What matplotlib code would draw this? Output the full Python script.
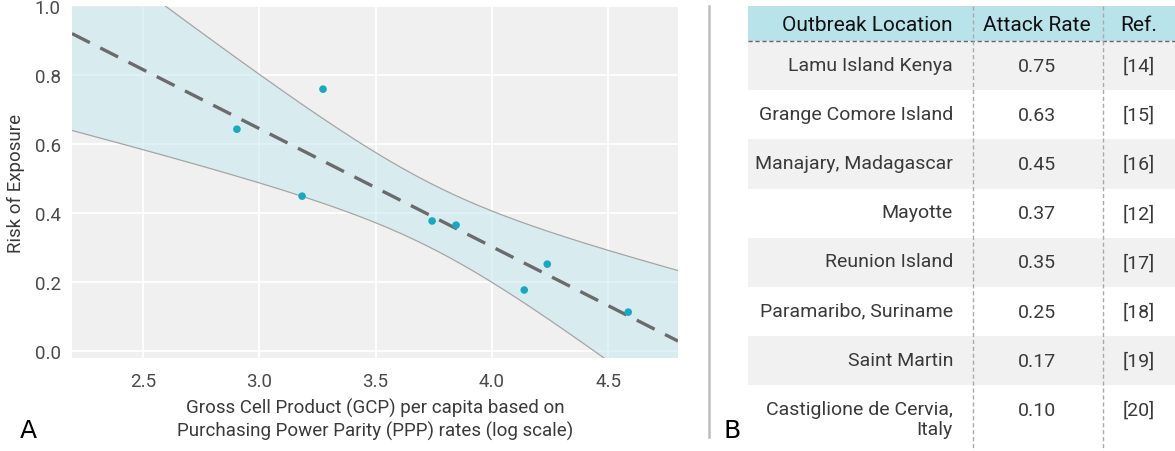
import numpy as np
import matplotlib
matplotlib.use('Agg')
import matplotlib.pyplot as plt
from matplotlib.lines import Line2D
from matplotlib.patches import Rectangle

# Panel A data: GCP per capita (log scale) vs risk of exposure
gcp_log = [2.904, 3.274, 3.184, 3.743, 3.846, 4.139, 4.238, 4.586]
risk = [0.643, 0.759, 0.449, 0.377, 0.365, 0.177, 0.252, 0.113]

x_ticks = [2.5, 3.0, 3.5, 4.0, 4.5]
y_ticks = [0.0, 0.2, 0.4, 0.6, 0.8, 1.0]

# Panel B table
col_headers = ['Outbreak Location', 'Attack Rate', 'Ref.']
locations = ['Lamu Island Kenya', 'Grange Comore Island', 'Manajary, Madagascar',
             'Mayotte', 'Reunion Island', 'Paramaribo, Suriname', 'Saint Martin',
             'Castiglione de Cervia,\nItaly']
attack_rates = ['0.75', '0.63', '0.45', '0.37', '0.35', '0.25', '0.17', '0.10']
refs = ['[14]', '[15]', '[16]', '[12]', '[17]', '[18]', '[19]', '[20]']

# style
FONT = 'Roboto'
TEXT_COLOR = '#3a3a3a'
TICK_COLOR = '#4a4a4a'
POINT_COLOR = '#15a9c3'
LINE_COLOR = '#6b6b6b'
BAND_COLOR = '#c6e9f0'
HEADER_COLOR = '#b9e3ea'
STRIPE_COLOR = '#f1f1f1'
T_CRIT = 2.447  # t(0.975, df=6)

plt.rcParams['font.family'] = [FONT, 'DejaVu Sans']

W, H = 1175, 452
fig = plt.figure(figsize=(W / 100, H / 100), dpi=100)


def px_box(left, top, right, bottom):
    return [left / W, 1 - bottom / H, (right - left) / W, (bottom - top) / H]


# ---- Panel A ----
ax = fig.add_axes(px_box(72, 7, 678, 359))
ax.set_facecolor('#f0f0f0')
for sp in ax.spines.values():
    sp.set_visible(False)
ax.grid(True, color='white', linewidth=1.3)
ax.set_axisbelow(True)
ax.tick_params(axis='both', length=0, labelsize=13.5, labelcolor=TICK_COLOR)
ax.tick_params(axis='x', pad=10)
ax.tick_params(axis='y', pad=8)
ax.set_xticks(x_ticks)
ax.set_yticks(y_ticks)
ax.set_xlim(2.195, 4.80)
ax.set_ylim(-0.02, 1.0)

x = np.array(gcp_log)
y = np.array(risk)
slope, intercept = np.polyfit(x, y, 1)
xs = np.linspace(2.195, 4.80, 300)
fit = intercept + slope * xs
resid = y - (intercept + slope * x)
s = np.sqrt(np.sum(resid ** 2) / (len(x) - 2))
sxx = np.sum((x - x.mean()) ** 2)
hw = T_CRIT * s * np.sqrt(1 / len(x) + (xs - x.mean()) ** 2 / sxx)

ax.fill_between(xs, fit - hw, fit + hw, color=BAND_COLOR, alpha=0.55, linewidth=0, zorder=2)
ax.plot(xs, fit + hw, color='#a5a5a5', linewidth=0.9, zorder=3)
ax.plot(xs, fit - hw, color='#a5a5a5', linewidth=0.9, zorder=3)
ax.plot(xs, fit, color=LINE_COLOR, linewidth=2.4, dashes=(6, 3.5), zorder=4)
ax.scatter(x, y, s=30, color=POINT_COLOR, edgecolor='none', zorder=5)

ax.set_ylabel('Risk of Exposure', fontsize=13.5, color=TEXT_COLOR, labelpad=7)
ax.set_xlabel('Gross Cell Product (GCP) per capita based on\nPurchasing Power Parity (PPP) rates (log scale)',
              fontsize=13.5, color=TEXT_COLOR, labelpad=6, linespacing=1.2)

panel_font = ['Liberation Sans Narrow', 'DejaVu Sans']
fig.text(28 / W, 1 - 431 / H, 'A', fontsize=18, color='black', ha='center', va='center',
         family=panel_font)
fig.text(732 / W, 1 - 431 / H, 'B', fontsize=18, color='black', ha='center', va='center',
         family=panel_font)

# divider between panels
fig.add_artist(Line2D([709 / W, 709 / W], [1 - 7 / H, 1 - 438 / H], color='#bdbdbd', linewidth=1.8))

# ---- Panel B: table ----
tab = fig.add_axes(px_box(748, 7, 1175, 452))
tab.set_xlim(0, 427)
tab.set_ylim(445, 0)
tab.axis('off')

header_h = 35
row_h = 49.2
col_edges = [0, 225, 355, 440]

tab.add_patch(Rectangle((0, 0), 440, header_h, facecolor=HEADER_COLOR, edgecolor='none'))
for i in range(len(locations)):
    top = header_h + i * row_h
    h = row_h if i < len(locations) - 1 else 445 - top
    if i % 2 == 0:
        tab.add_patch(Rectangle((0, top), 440, h, facecolor=STRIPE_COLOR, edgecolor='none'))
    mid = top + row_h / 2
    tab.text(205, mid - 10, locations[i], ha='right', va='top', fontsize=14, color=TEXT_COLOR,
             linespacing=1.15)
    tab.text(289, mid, attack_rates[i], ha='center', va='center', fontsize=14, color=TEXT_COLOR)
    tab.text(391, mid, refs[i], ha='center', va='center', fontsize=14, color=TEXT_COLOR)

for j, hx in enumerate([205, 289, 391]):
    tab.text(hx, header_h / 2 + 1, col_headers[j], ha='right' if j == 0 else 'center', va='center',
             fontsize=15, color='#111111')

tab.plot([0, 440], [header_h, header_h], color='#666666', linewidth=1, linestyle=(0, (3, 2)))
for xe in col_edges[1:3]:
    tab.plot([xe, xe], [0, 445], color='#aaaaaa', linewidth=1, linestyle=(0, (3, 2)))

fig.savefig('out.png', dpi=100)
